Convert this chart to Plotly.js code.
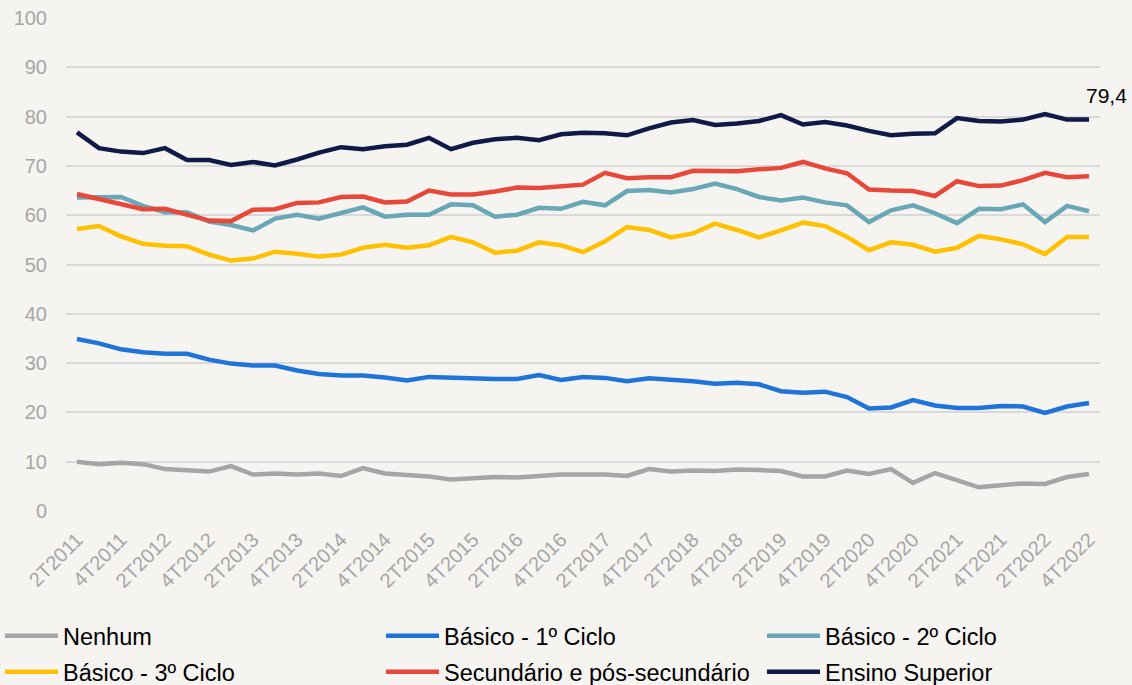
<!DOCTYPE html>
<html>
<head>
<meta charset="utf-8">
<script src="https://cdn.plot.ly/plotly-3.0.1.min.js"></script>
<style>
  html, body { margin: 0; padding: 0; background: #f5f4f0; }
  #chart { width: 1132px; height: 685px; }
</style>
</head>
<body>
<div id="chart"></div>
<script>
const quarters = [
  "2T2011","3T2011","4T2011",
  "1T2012","2T2012","3T2012","4T2012",
  "1T2013","2T2013","3T2013","4T2013",
  "1T2014","2T2014","3T2014","4T2014",
  "1T2015","2T2015","3T2015","4T2015",
  "1T2016","2T2016","3T2016","4T2016",
  "1T2017","2T2017","3T2017","4T2017",
  "1T2018","2T2018","3T2018","4T2018",
  "1T2019","2T2019","3T2019","4T2019",
  "1T2020","2T2020","3T2020","4T2020",
  "1T2021","2T2021","3T2021","4T2021",
  "1T2022","2T2022","3T2022","4T2022"
];

const nenhum = [10.0, 9.5, 9.8, 9.5, 8.5, 8.3, 8.0, 9.1, 7.4, 7.6, 7.4, 7.6, 7.1, 8.7, 7.6, 7.3,
  7.0, 6.4, 6.7, 6.9, 6.8, 7.2, 7.4, 7.4, 7.4, 7.1, 8.5, 8.0, 8.2, 8.1, 8.4, 8.3,
  8.1, 7.0, 7.0, 8.2, 7.5, 8.5, 5.7, 7.7, 6.2, 4.8, 5.2, 5.6, 5.5, 6.9, 7.5];

const basico1 = [34.9, 34.0, 32.8, 32.2, 31.9, 31.9, 30.7, 29.9, 29.5, 29.5, 28.5, 27.8, 27.5, 27.5, 27.1, 26.5,
  27.2, 27.0, 27.0, 26.8, 26.8, 27.6, 26.6, 27.2, 27.0, 26.3, 26.9, 26.7, 26.3, 25.8, 26.0, 25.7,
  24.3, 24.0, 24.2, 23.1, 20.8, 21.0, 22.5, 21.4, 20.9, 20.9, 21.3, 21.2, 19.9, 21.2, 21.9];

const basico2 = [63.6, 63.7, 63.7, 61.9, 60.6, 60.6, 58.7, 58.0, 56.9, 59.3, 60.1, 59.3, 60.4, 61.6, 59.7, 60.1,
  60.1, 62.2, 62.0, 59.7, 60.1, 61.5, 61.3, 62.7, 62.0, 64.9, 65.1, 64.6, 65.3, 66.4, 65.3, 63.7,
  63.0, 63.6, 62.6, 62.0, 58.6, 61.0, 62.0, 60.4, 58.4, 61.3, 61.2, 62.2, 58.6, 61.9, 60.8];

const basico3 = [57.2, 57.8, 55.7, 54.2, 53.8, 53.7, 52.0, 50.8, 51.2, 52.6, 52.2, 51.6, 52.0, 53.4, 54.0, 53.4,
  53.9, 55.6, 54.5, 52.4, 52.8, 54.5, 53.9, 52.5, 54.7, 57.6, 57.0, 55.5, 56.3, 58.3, 57.0, 55.5,
  56.9, 58.5, 57.8, 55.6, 52.9, 54.5, 54.0, 52.6, 53.4, 55.8, 55.1, 54.1, 52.1, 55.6, 55.6];

const secundario = [64.3, 63.3, 62.1, 61.2, 61.3, 60.1, 58.9, 58.8, 61.1, 61.2, 62.5, 62.6, 63.7, 63.8, 62.6, 62.8,
  65.0, 64.2, 64.2, 64.8, 65.6, 65.5, 65.8, 66.2, 68.6, 67.5, 67.7, 67.7, 69.0, 69.0, 68.9, 69.3,
  69.6, 70.8, 69.5, 68.5, 65.2, 65.0, 64.9, 63.9, 66.9, 65.9, 66.0, 67.1, 68.6, 67.7, 67.9];

const superior = [76.8, 73.6, 72.9, 72.6, 73.6, 71.2, 71.2, 70.2, 70.8, 70.1, 71.3, 72.7, 73.8, 73.4, 74.0, 74.3,
  75.7, 73.4, 74.7, 75.4, 75.7, 75.2, 76.4, 76.7, 76.6, 76.2, 77.6, 78.8, 79.3, 78.3, 78.6, 79.1,
  80.3, 78.4, 78.9, 78.2, 77.1, 76.2, 76.5, 76.6, 79.7, 79.1, 79.0, 79.4, 80.5, 79.4, 79.4];

const seriesNames = ["Nenhum", "Básico - 1º Ciclo", "Básico - 2º Ciclo",
                     "Básico - 3º Ciclo", "Secundário e pós-secundário", "Ensino Superior"];
const seriesValues = [nenhum, basico1, basico2, basico3, secundario, superior];
const seriesColors = ["#a5a5a5", "#1f74d8", "#6aa7b6", "#ffc000", "#e8483a", "#0f1a47"];

const tickQuarters = quarters.filter((q, i) => i % 2 === 0);
const yTicks = [0, 10, 20, 30, 40, 50, 60, 70, 80, 90, 100];

const FONT = '"Liberation Sans", Arial, sans-serif';
const LEGEND_ITEM_W = 53;
const LEGEND_COL_W = 313;

const traces = seriesNames.map((name, k) => {
  const t = {
    type: 'scatter',
    mode: 'lines',
    name: name,
    x: quarters,
    y: seriesValues[k],
    line: { color: seriesColors[k], width: 4.5, shape: 'linear' },
    legend: k < 3 ? 'legend' : 'legend2',
    hoverinfo: 'x+y+name'
  };
  if (k % 3 !== 2) t.legendwidth = LEGEND_COL_W;
  return t;
});

const lastIdx = quarters.length - 1;
const lastVal = superior[lastIdx];

const legendBase = {
  orientation: 'h',
  xref: 'container',
  yref: 'container',
  x: 0,
  xanchor: 'left',
  yanchor: 'top',
  font: { family: FONT, size: 23.5, color: '#000000' },
  bgcolor: 'rgba(0,0,0,0)',
  itemwidth: LEGEND_ITEM_W,
  tracegroupgap: 0
};

const layout = {
  width: 1132,
  height: 685,
  paper_bgcolor: '#f5f4f0',
  plot_bgcolor: '#f5f4f0',
  font: { family: FONT, color: '#000000', size: 20 },
  margin: { l: 66, r: 32, t: 18, b: 174, pad: 0 },
  showlegend: true,
  xaxis: {
    type: 'category',
    categoryorder: 'array',
    categoryarray: quarters,
    range: [-0.5, lastIdx + 0.5],
    tickmode: 'array',
    tickvals: tickQuarters,
    ticktext: tickQuarters,
    tickangle: -45,
    tickfont: { family: FONT, size: 20, color: '#a6a6a6' },
    showgrid: false,
    zeroline: false,
    showline: false,
    ticks: 'outside',
    ticklen: 8,
    tickcolor: 'rgba(0,0,0,0)'
  },
  yaxis: {
    range: [0, 100],
    tickmode: 'array',
    tickvals: yTicks,
    ticktext: yTicks.map(String),
    tickfont: { family: FONT, size: 20, color: '#a6a6a6' },
    showgrid: true,
    gridcolor: '#d9d9d9',
    gridwidth: 1.5,
    zeroline: false,
    showline: false,
    ticks: '',
    ticklabelstandoff: 18
  },
  legend: Object.assign({}, legendBase, { y: 1 - 614 / 685 }),
  legend2: Object.assign({}, legendBase, { y: 1 - 650 / 685 }),
  annotations: [{
    x: quarters[lastIdx],
    y: lastVal,
    xref: 'x',
    yref: 'y',
    text: String(lastVal).replace('.', ','),
    showarrow: false,
    xanchor: 'left',
    yanchor: 'middle',
    xshift: -5,
    yshift: 24,
    font: { family: FONT, size: 21, color: '#000000' }
  }]
};

Plotly.newPlot('chart', traces, layout, { displayModeBar: false, responsive: false });
</script>
</body>
</html>
